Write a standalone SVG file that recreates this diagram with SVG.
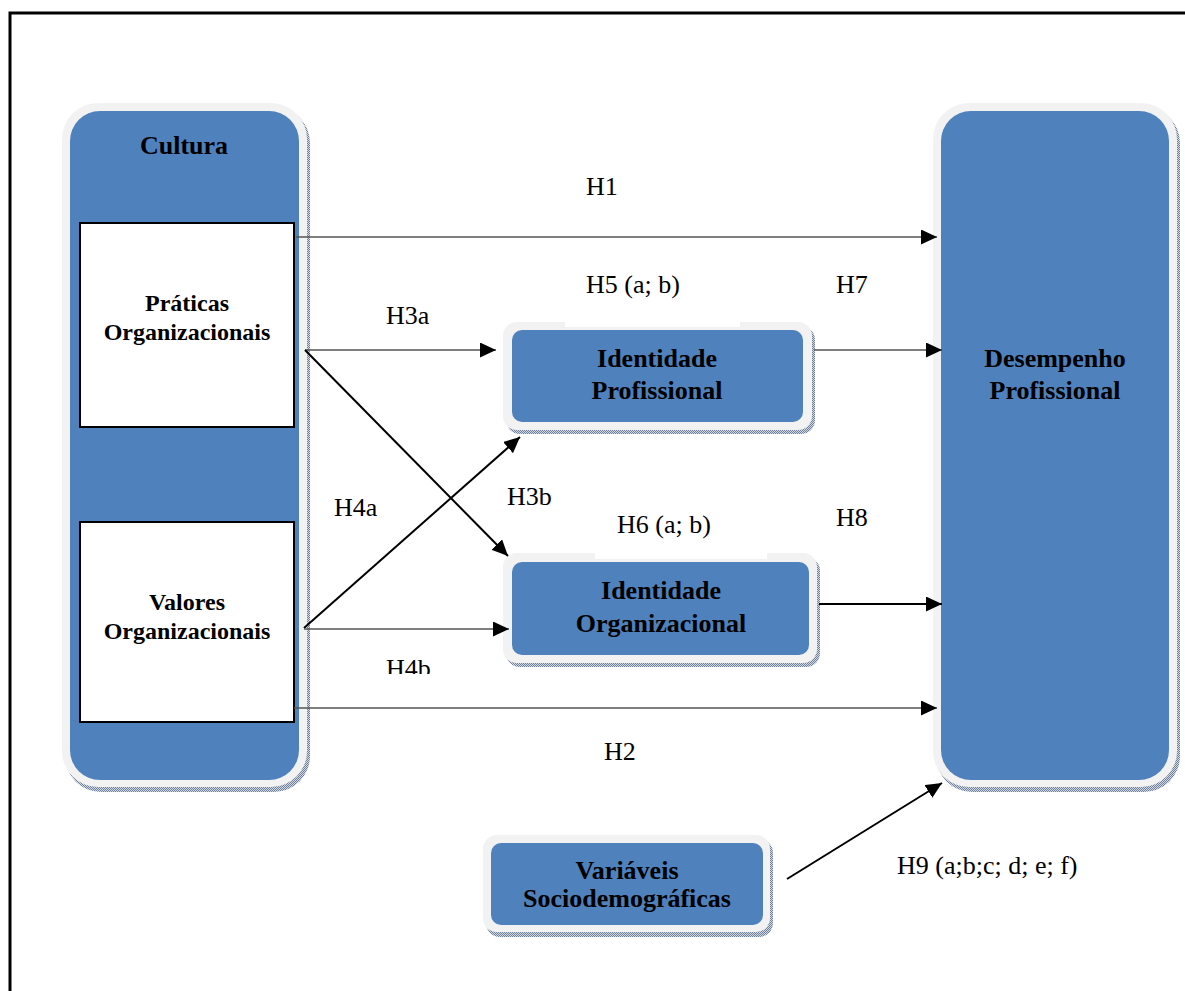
<svg xmlns="http://www.w3.org/2000/svg" width="1185" height="991" viewBox="0 0 1185 991">
  <style>
    .frame { fill: none; stroke: #000; stroke-width: 3; }
    .shadow { fill: url(#dots); }
    .halo { fill: #f2f2f2; }
    .panel { fill: #4f81bd; }
    .inner { fill: #fff; stroke: #000; stroke-width: 2; }
    .title { font-family: "Liberation Serif", "Times New Roman", serif; font-weight: bold; font-size: 26px; fill: #000; text-anchor: middle; }
    .small { font-size: 24px; }
    .lbl { font-family: "Liberation Serif", "Times New Roman", serif; font-size: 26px; fill: #000; }
    .thin { stroke: #555; stroke-width: 1.4; fill: none; marker-end: url(#arrow); }
    .bold { stroke: #000; stroke-width: 2; fill: none; marker-end: url(#arrow); }
  </style>
  <defs>
    <pattern id="dots" width="2" height="2" patternUnits="userSpaceOnUse">
      <rect width="2" height="2" fill="#d3d9e3"/>
      <rect width="1" height="1" fill="#6f809a"/>
      <rect x="1" y="1" width="1" height="1" fill="#6f809a"/>
    </pattern>
    <marker id="arrow" markerUnits="userSpaceOnUse" markerWidth="17" markerHeight="16" refX="16" refY="7.5" orient="auto">
      <path d="M0,0 L16,7.5 L0,15 Z" fill="#000"/>
    </marker>
    <clipPath id="cutH4b">
      <rect x="300" y="640" width="200" height="34"/>
    </clipPath>
  </defs>

  <rect width="1185" height="991" fill="#fff"/>
  <path class="frame" d="M10,991 V13 H1185"/>

  <!-- Cultura container -->
  <g id="cultura">
    <rect class="shadow" x="65" y="107" width="245" height="685" rx="36"/>
    <rect class="halo" x="62" y="103" width="245" height="684" rx="36"/>
    <rect class="panel" x="70" y="111" width="229" height="669" rx="30"/>
    <text class="title" x="184" y="154">Cultura</text>
  </g>

  <g id="praticas">
    <rect class="inner" x="80" y="223" width="214" height="204"/>
    <text class="title small" x="187" y="311">Práticas</text>
    <text class="title small" x="187" y="340">Organizacionais</text>
  </g>

  <g id="valores">
    <rect class="inner" x="80" y="522" width="214" height="200"/>
    <text class="title small" x="187" y="610">Valores</text>
    <text class="title small" x="187" y="639">Organizacionais</text>
  </g>

  <g id="desempenho">
    <rect class="shadow" x="936" y="107" width="244" height="685" rx="36"/>
    <rect class="halo" x="933" y="103" width="244" height="684" rx="36"/>
    <rect class="panel" x="941" y="111" width="228" height="669" rx="30"/>
    <text class="title" x="1055" y="367">Desempenho</text>
    <text class="title" x="1055" y="399">Profissional</text>
  </g>

  <g id="identidade-profissional">
    <rect class="shadow" x="506" y="326" width="309" height="108" rx="14"/>
    <rect class="halo" x="503" y="322" width="309" height="108" rx="14"/>
    <rect class="panel" x="512" y="330" width="291" height="92" rx="10"/>
    <text class="title" x="657" y="367">Identidade</text>
    <text class="title" x="657" y="399">Profissional</text>
  </g>

  <g id="identidade-organizacional">
    <rect class="shadow" x="506" y="557" width="314" height="110" rx="14"/>
    <rect class="halo" x="503" y="553" width="314" height="110" rx="14"/>
    <rect class="panel" x="512" y="562" width="297" height="93" rx="10"/>
    <text class="title" x="661" y="599">Identidade</text>
    <text class="title" x="661" y="632">Organizacional</text>
  </g>

  <g id="variaveis">
    <rect class="shadow" x="486" y="839" width="287" height="98" rx="14"/>
    <rect class="halo" x="483" y="835" width="287" height="97" rx="14"/>
    <rect class="panel" x="491" y="843" width="272" height="82" rx="10"/>
    <text class="title" x="627" y="879">Variáveis</text>
    <text class="title" x="627" y="907">Sociodemográficas</text>
  </g>

  <!-- connectors -->
  <g id="connectors">
    <line class="thin" x1="296" y1="237" x2="937" y2="237"/>
    <line class="thin" x1="305" y1="350" x2="496" y2="350"/>
    <line class="bold" x1="305" y1="350" x2="508" y2="556"/>
    <line class="bold" x1="304" y1="628" x2="520" y2="437"/>
    <line class="thin" x1="304" y1="629" x2="509" y2="629"/>
    <line class="thin" x1="294" y1="708" x2="937" y2="708"/>
    <line class="thin" x1="814" y1="350" x2="942" y2="350"/>
    <line class="bold" x1="819" y1="604" x2="942" y2="604"/>
    <line class="bold" x1="787" y1="879" x2="942" y2="783"/>
  </g>

  <!-- hypothesis labels -->
  <g id="labels">
    <rect x="565" y="318" width="175" height="9" fill="#fff"/>
    <rect x="595" y="550" width="172" height="9" fill="#fff"/>
    <text class="lbl" x="586" y="195">H1</text>
    <text class="lbl" x="586" y="293">H5 (a; b)</text>
    <text class="lbl" x="836" y="293">H7</text>
    <text class="lbl" x="386" y="324">H3a</text>
    <text class="lbl" x="334" y="516">H4a</text>
    <text class="lbl" x="507" y="505">H3b</text>
    <text class="lbl" x="617" y="533">H6 (a; b)</text>
    <text class="lbl" x="836" y="526">H8</text>
    <text class="lbl" x="386" y="677" clip-path="url(#cutH4b)">H4b</text>
    <text class="lbl" x="604" y="760">H2</text>
    <text class="lbl" x="897" y="874">H9 (a;b;c; d; e; f)</text>
  </g>
</svg>
